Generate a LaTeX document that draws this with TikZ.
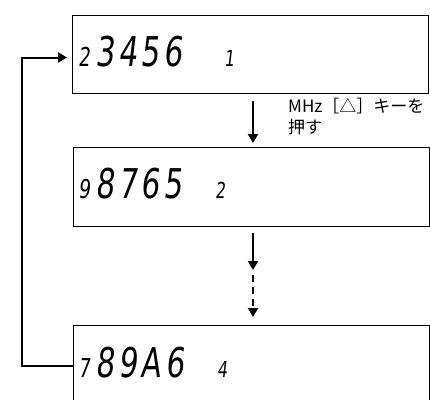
\documentclass[tikz,border=0pt]{standalone}
\usepackage{fontspec}
\newfontfamily\jpfont{Noto Sans CJK JP}
\newfontfamily\segfont[FakeStretch=0.72,FakeSlant=0.12,LetterSpace=10]{DejaVu Sans}
\newfontfamily\segsmall[FakeStretch=0.72,FakeSlant=0.12]{DejaVu Sans}
\usetikzlibrary{arrows.meta}
\begin{document}
\begin{tikzpicture}[x=1pt,y=-1pt,
  box/.style={draw,line width=1pt,minimum width=356pt,inner sep=0pt,anchor=north west},
  conn/.style={line width=2.4pt,-{Triangle[length=9pt,width=10pt]}},
  loopc/.style={line width=2pt,-{Triangle[length=9pt,width=10pt]}},
  bigdig/.style={font=\segfont\fontsize{41}{41}\selectfont,anchor=base west,inner sep=0pt},
  predig/.style={font=\segsmall\fontsize{26}{26}\selectfont,anchor=base west,inner sep=0pt},
  sufdig/.style={font=\segsmall\fontsize{22}{22}\selectfont,anchor=base west,inner sep=0pt},
  lbl/.style={font=\jpfont\fontsize{17}{21}\selectfont,align=left,anchor=north west,inner sep=0pt}]
\useasboundingbox (0,0) rectangle (430,399);
\clip (0,0) rectangle (430,399);
% boxes
\node[box,minimum height=78pt] (b1) at (72,15) {};
\node[box,minimum height=79pt] (b2) at (73,147) {};
\node[box,minimum height=80pt] (b3) at (73,325) {};
% display texts
\node[predig] (p1) at (78,66) {2};
\node[bigdig] (d1) at (95,66) {3456};
\node[sufdig] (s1) at (224,66) {1};
\node[predig] (p2) at (78,198) {9};
\node[bigdig] (d2) at (95,198) {8765};
\node[sufdig] (s2) at (215,198) {2};
\node[predig] (p3) at (78,377) {7};
\node[bigdig] (d3) at (95,377) {89A6};
\node[sufdig] (s3) at (217,377) {4};
% label
\node[lbl] (lab) at (288,98) {MHz［△］キーを\\押す};
% arrows
\coordinate (ax) at (253,0);
\coordinate (mid) at (253,270);
\draw[conn,shorten <=7pt,shorten >=4pt] (b1.south -| ax) -- (b2.north -| ax);
\draw[conn,shorten <=6pt] (b2.south -| ax) -- (mid);
\draw[conn,dash pattern=on 7pt off 5pt,dash phase=7pt,shorten >=8pt] (mid) -- (b3.north -| ax);
% loop back
\draw[loopc,shorten >=5pt] (b3.west) -- ++(-51,0) |- ([yshift=-3pt]b1.west);
\end{tikzpicture}
\end{document}
